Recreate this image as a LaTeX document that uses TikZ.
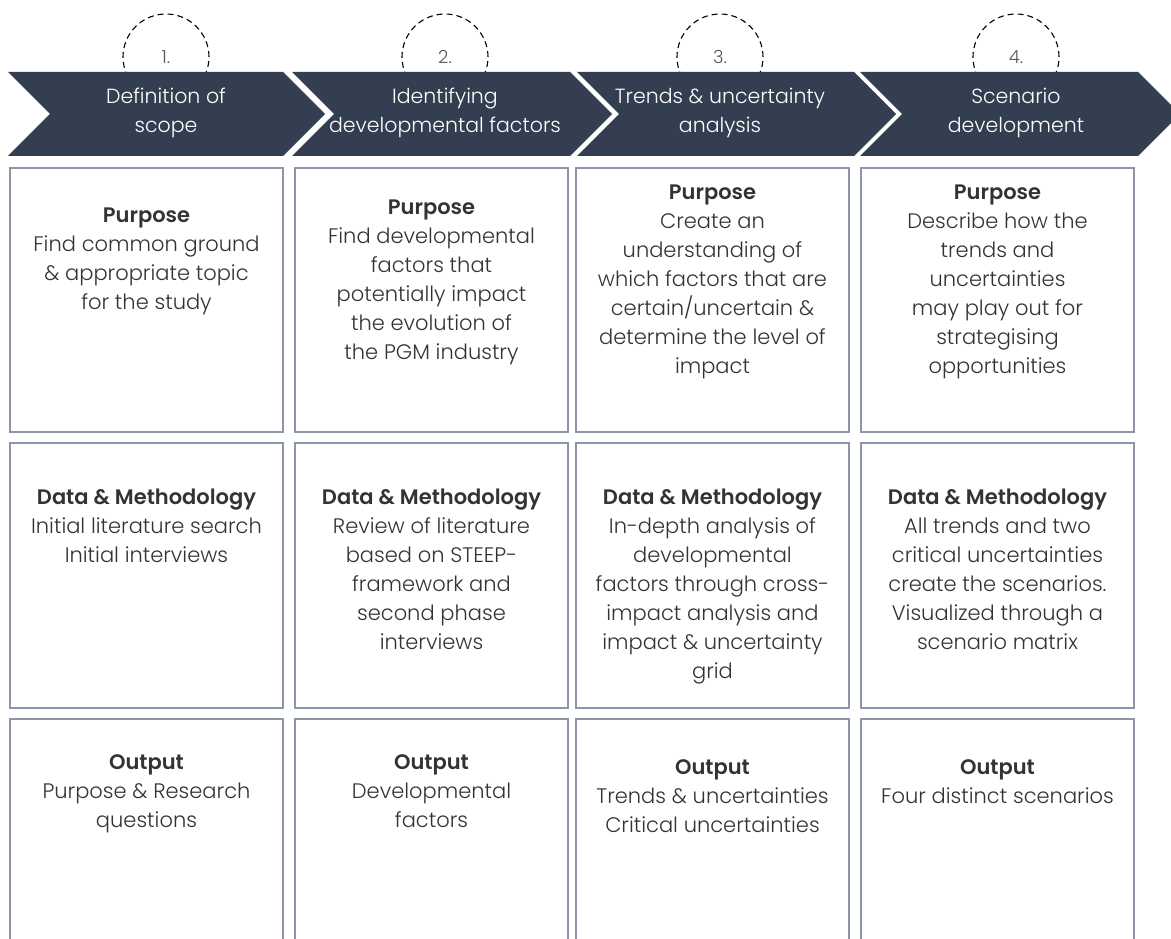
\documentclass[tikz,border=0pt]{standalone}
\usepackage{fontspec}
\setmainfont{Poppins}[UprightFont=* Light, BoldFont=* SemiBold]
\usetikzlibrary{positioning}
\definecolor{stagefill}{HTML}{333F50}
\definecolor{cellline}{HTML}{8C96A8}
\definecolor{bodytext}{HTML}{333333}
\definecolor{numgray}{HTML}{555555}
\begin{document}
\begin{tikzpicture}[x=1pt,y=-1pt,
    stage/.style={fill=stagefill},
    stagetext/.style={text=white, align=center, inner sep=0pt, anchor=north,
      font=\fontsize{20.5}{29}\selectfont},
    numcircle/.style={circle, draw=black, line width=1.1pt, dash pattern=on 6pt off 4pt,
      minimum size=86pt, inner sep=0pt, text=numgray, font=\fontsize{18}{22}\selectfont},
    cell/.style={draw=cellline, line width=1.2pt, minimum width=273pt, inner sep=0pt},
    celltext/.style={text=bodytext, align=center, inner sep=0pt,
      font=\fontsize{21}{29}\selectfont}]
  \useasboundingbox (0,0) rectangle (1171,939);
  \clip (0,0) rectangle (1171,939);
  % Step numbers
  \node[numcircle] (n1) at (166,57) {1.};
  \node[numcircle] (n2) at (445,57) {2.};
  \node[numcircle] (n3) at (720,57) {3.};
  \node[numcircle] (n4) at (1016,57) {4.};
  % Stage arrows
  \fill[stage] (8,72) -- (283,72) -- (325,114) -- (283,156) -- (8,156) -- (50,114) -- cycle;
  \fill[stage] (292,72) -- (570,72) -- (612,114) -- (570,156) -- (292,156) -- (334,114) -- cycle;
  \fill[stage] (577,72) -- (854,72) -- (896,114) -- (854,156) -- (577,156) -- (619,114) -- cycle;
  \fill[stage] (860,72) -- (1138,72) -- (1180,114) -- (1138,156) -- (860,156) -- (902,114) -- cycle;
  \node[stagetext] (s1) at (166,88) {Definition of\\scope};
  \node[stagetext] (s2) at (445,88) {Identifying\\developmental factors};
  \node[stagetext] (s3) at (720,88) {Trends \& uncertainty\\analysis};
  \node[stagetext] (s4) at (1016,88) {Scenario\\development};
  % Purpose row
  \node[cell, minimum height=264pt] (pur1) at (146.5,300) {};
  \node[cell, minimum height=264pt] (pur2) at (431.5,300) {};
  \node[cell, minimum height=264pt] (pur3) at (712.5,300) {};
  \node[cell, minimum height=264pt] (pur4) at (997.5,300) {};
  \node[celltext, below=40pt of pur1.north] (purtxt1)
    {\textbf{Purpose}\\Find common ground\\\& appropriate topic\\for the study};
  \node[celltext, below=32pt of pur2.north] (purtxt2)
    {\textbf{Purpose}\\Find developmental\\factors that\\potentially impact\\the evolution of\\the PGM industry};
  \node[celltext, below=17pt of pur3.north] (purtxt3)
    {\textbf{Purpose}\\Create an\\understanding of\\which factors that are\\certain/uncertain \&\\determine the level of\\impact};
  \node[celltext, below=17pt of pur4.north] (purtxt4)
    {\textbf{Purpose}\\Describe how the\\trends and\\uncertainties\\may play out for\\strategising\\opportunities};
  % Data & methodology row
  \node[cell, minimum height=265pt] (dat1) at (146.5,575.5) {};
  \node[cell, minimum height=265pt] (dat2) at (431.5,575.5) {};
  \node[cell, minimum height=265pt] (dat3) at (712.5,575.5) {};
  \node[cell, minimum height=265pt] (dat4) at (997.5,575.5) {};
  \node[celltext, below=46pt of dat1.north] (dattxt1)
    {\textbf{Data \& Methodology}\\Initial literature search\\Initial interviews};
  \node[celltext, below=46pt of dat2.north] (dattxt2)
    {\textbf{Data \& Methodology}\\Review of literature\\based on STEEP-\\framework and\\second phase\\interviews};
  \node[celltext, below=46pt of dat3.north] (dattxt3)
    {\textbf{Data \& Methodology}\\In-depth analysis of\\developmental\\factors through cross-\\impact analysis and\\impact \& uncertainty\\grid};
  \node[celltext, below=46pt of dat4.north] (dattxt4)
    {\textbf{Data \& Methodology}\\All trends and two\\critical uncertainties\\create the scenarios.\\Visualized through a\\scenario matrix};
  % Output row
  \node[cell, minimum height=260pt] (out1) at (146.5,849) {};
  \node[cell, minimum height=260pt] (out2) at (431.5,849) {};
  \node[cell, minimum height=260pt] (out3) at (712.5,849) {};
  \node[cell, minimum height=260pt] (out4) at (997.5,849) {};
  \node[celltext, below=36pt of out1.north] (outtxt1)
    {\textbf{Output}\\Purpose \& Research\\questions};
  \node[celltext, below=36pt of out2.north] (outtxt2)
    {\textbf{Output}\\Developmental\\factors};
  \node[celltext, below=41pt of out3.north] (outtxt3)
    {\textbf{Output}\\Trends \& uncertainties\\Critical uncertainties};
  \node[celltext, below=41pt of out4.north] (outtxt4)
    {\textbf{Output}\\Four distinct scenarios};
\end{tikzpicture}
\end{document}
